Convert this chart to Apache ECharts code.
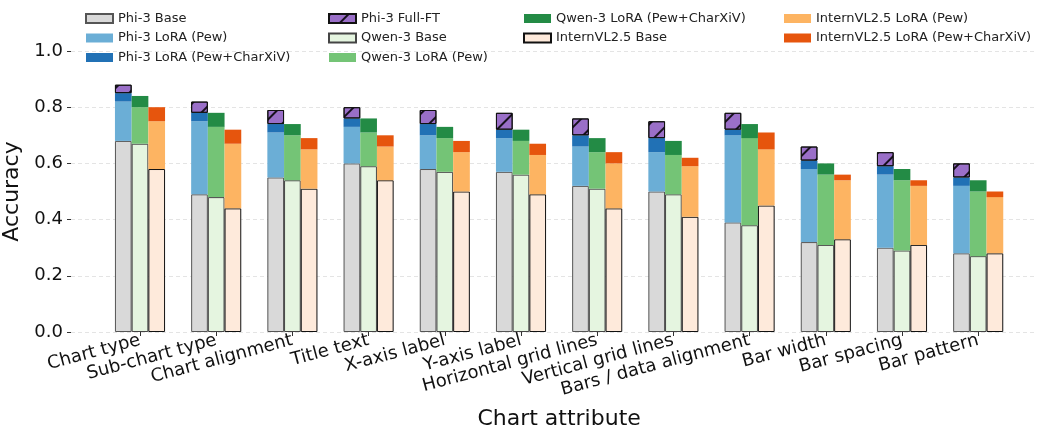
<!DOCTYPE html>
<html>
<head>
<meta charset="utf-8">
<script src="https://cdn.jsdelivr.net/npm/echarts@6/dist/echarts.min.js"></script>
<style>
  html, body { margin: 0; padding: 0; background: #fff; }
  #chart { width: 1037px; height: 431px; }
</style>
</head>
<body>
<div id="chart"></div>
<script>
// chart attributes on the x axis
var categories = ['Chart type', 'Sub-chart type', 'Chart alignment', 'Title text', 'X-axis label', 'Y-axis label',
  'Horizontal grid lines', 'Vertical grid lines', 'Bars / data alignment', 'Bar width', 'Bar spacing', 'Bar pattern']

// accuracy (totals, not increments)
var phiBase     = [0.68, 0.49, 0.55, 0.60, 0.58, 0.57, 0.52, 0.50, 0.39, 0.32, 0.30, 0.28]
var phiPew      = [0.82, 0.75, 0.71, 0.73, 0.70, 0.69, 0.66, 0.64, 0.70, 0.58, 0.56, 0.52]
var phiPewCx    = [0.85, 0.78, 0.74, 0.76, 0.74, 0.72, 0.70, 0.69, 0.72, 0.61, 0.59, 0.55]
var phiFull     = [0.88, 0.82, 0.79, 0.80, 0.79, 0.78, 0.76, 0.75, 0.78, 0.66, 0.64, 0.60]
var qwenBase    = [0.67, 0.48, 0.54, 0.59, 0.57, 0.56, 0.51, 0.49, 0.38, 0.31, 0.29, 0.27]
var qwenPew     = [0.80, 0.73, 0.70, 0.71, 0.69, 0.68, 0.64, 0.63, 0.69, 0.56, 0.54, 0.50]
var qwenPewCx   = [0.84, 0.78, 0.74, 0.76, 0.73, 0.72, 0.69, 0.68, 0.74, 0.60, 0.58, 0.54]
var internBase  = [0.58, 0.44, 0.51, 0.54, 0.50, 0.49, 0.44, 0.41, 0.45, 0.33, 0.31, 0.28]
var internPew   = [0.75, 0.67, 0.65, 0.66, 0.64, 0.63, 0.60, 0.59, 0.65, 0.54, 0.52, 0.48]
var internPewCx = [0.80, 0.72, 0.69, 0.70, 0.68, 0.67, 0.64, 0.62, 0.71, 0.56, 0.54, 0.50]

var yTicks = [0, 0.2, 0.4, 0.6, 0.8, 1.0]

var FONT = 'DejaVu Sans'

// stacked segment = this total minus the one below it
function inc (top, below) {
  return top.map(function (v, i) { return Math.max(0, +(v - below[i]).toFixed(3)) })
}

var BW = 16.7

function bar (name, stack, data, color, border, extra) {
  var s = {
    name: name,
    type: 'bar',
    stack: stack,
    xAxisIndex: 1,
    yAxisIndex: 1,
    barWidth: BW,
    barGap: '0%',
    data: data,
    itemStyle: {
      color: color,
      borderColor: border || color,
      borderWidth: border ? 1 : 0
    },
    emphasis: { disabled: true }
  }
  if (extra) s.itemStyle.decal = extra
  return s
}

var hatch = {
  symbol: 'rect',
  symbolSize: 1,
  dashArrayX: [1, 0],
  dashArrayY: [1.2, 11],
  rotation: -Math.PI / 4,
  color: 'rgba(0,0,0,0.85)'
}

var series = [
  bar('Phi-3 Base', 'phi', phiBase, '#d9d9d9', '#555'),
  bar('Phi-3 LoRA (Pew)', 'phi', inc(phiPew, phiBase), '#6baed6'),
  bar('Phi-3 LoRA (Pew+CharXiV)', 'phi', inc(phiPewCx, phiPew), '#2171b5'),
  bar('Phi-3 Full-FT', 'phi', inc(phiFull, phiPewCx), '#9a6fc8', '#111', hatch),
  bar('Qwen-3 Base', 'qwen', qwenBase, '#e5f5e0', '#444'),
  bar('Qwen-3 LoRA (Pew)', 'qwen', inc(qwenPew, qwenBase), '#74c476'),
  bar('Qwen-3 LoRA (Pew+CharXiV)', 'qwen', inc(qwenPewCx, qwenPew), '#238b45'),
  bar('InternVL2.5 Base', 'intern', internBase, '#feeadb', '#111'),
  bar('InternVL2.5 LoRA (Pew)', 'intern', inc(internPew, internBase), '#fdb462'),
  bar('InternVL2.5 LoRA (Pew+CharXiV)', 'intern', inc(internPewCx, internPew), '#e6550d')
]

// matplotlib style legend, 4 columns filled top to bottom
var legendCols = [
  ['Phi-3 Base', 'Phi-3 LoRA (Pew)', 'Phi-3 LoRA (Pew+CharXiV)'],
  ['Phi-3 Full-FT', 'Qwen-3 Base', 'Qwen-3 LoRA (Pew)'],
  ['Qwen-3 LoRA (Pew+CharXiV)', 'InternVL2.5 Base'],
  ['InternVL2.5 LoRA (Pew)', 'InternVL2.5 LoRA (Pew+CharXiV)']
]
var legendX = [80, 323, 518, 779]

var legends = legendCols.map(function (col, i) {
  return {
    data: col,
    orient: 'vertical',
    left: legendX[i],
    top: 7,
    itemWidth: 27,
    itemHeight: 9,
    itemGap: 6.5,
    icon: 'rect',
    selectedMode: false,
    textStyle: { fontFamily: FONT, fontSize: 13, color: '#222' }
  }
})

var chart = echarts.init(document.getElementById('chart'), null, { renderer: 'canvas' })

chart.setOption({
  animation: false,
  backgroundColor: '#fff',
  legend: legends,
  grid: [
    { left: 71, right: 0, top: 51, bottom: 99, outerBoundsMode: 'none', containLabel: false },
    { left: 101.9, right: 20.7, top: 51, bottom: 99, outerBoundsMode: 'none', containLabel: false }
  ],
  xAxis: [
    { type: 'value', gridIndex: 0, show: false, min: 0, max: 1 },
    {
      type: 'category',
      gridIndex: 1,
      data: categories,
      axisLine: { show: false },
      axisTick: { show: true, alignWithLabel: true, length: 4, lineStyle: { color: '#333' } },
      axisLabel: { rotate: 15, fontFamily: FONT, fontSize: 18, color: '#111', margin: 8, interval: 0 },
      name: 'Chart attribute',
      nameLocation: 'middle',
      nameGap: 76,
      nameTextStyle: { fontFamily: FONT, fontSize: 22, color: '#111' }
    }
  ],
  yAxis: [
    {
      type: 'value',
      gridIndex: 0,
      min: 0,
      max: 1,
      interval: 0.2,
      axisLine: { show: false },
      axisTick: { show: true, length: 4, lineStyle: { color: '#333' } },
      axisLabel: {
        fontFamily: FONT, fontSize: 18, color: '#111', margin: 8,
        formatter: function (v) {
          var t = yTicks.filter(function (x) { return Math.abs(x - v) < 1e-6 })
          return t.length ? t[0].toFixed(1) : ''
        }
      },
      splitLine: { show: true, lineStyle: { color: '#dddddd', type: [4, 3], width: 0.8 } },
      name: 'Accuracy',
      nameLocation: 'middle',
      nameGap: 37,
      nameTextStyle: { fontFamily: FONT, fontSize: 22, color: '#111' }
    },
    { type: 'value', gridIndex: 1, min: 0, max: 1, show: false }
  ],
  series: series
})
</script>
</body>
</html>
